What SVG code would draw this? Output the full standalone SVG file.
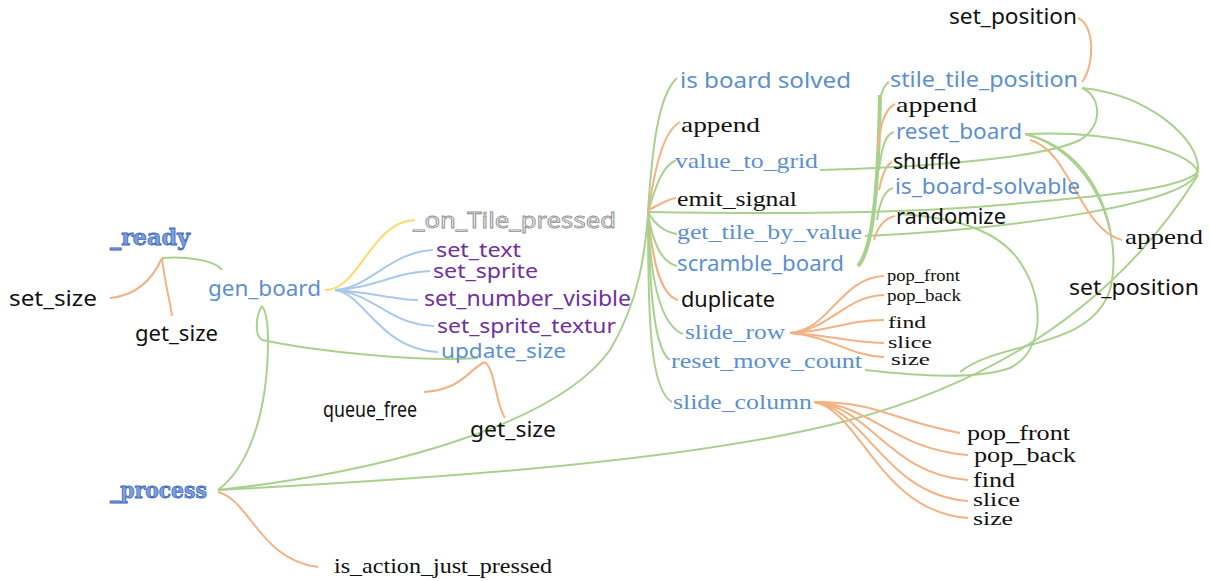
<svg xmlns="http://www.w3.org/2000/svg" width="1210" height="581" viewBox="0 0 1210 581">
<style>
.s{font-family:"Noto Sans","Liberation Sans",sans-serif;font-size:21px;fill:#111}
.r{font-family:"Liberation Serif","Times New Roman",serif;font-size:22px;fill:#111}
.k{font-size:17px}
.m{font-size:20px}
.n{font-size:18px}
.q{font-size:19px}
.b{fill:#5b8fcf}
.p{fill:#7030a0}
.w{font-family:"DejaVu Serif",serif;font-weight:bold;font-size:22px;fill:#7c9fe0;stroke:#3c66bf;stroke-width:0.8}
.t{font-family:"Noto Sans","Liberation Sans",sans-serif;font-size:21px;fill:#f0f0f0;stroke:#8f8f8f;stroke-width:0.8}
.g{fill:none;stroke:#a9d18e;stroke-width:2}
.o{fill:none;stroke:#f4b183;stroke-width:2}
.y{fill:none;stroke:#ffd966;stroke-width:2}
.l{fill:none;stroke:#a9c8ea;stroke-width:2}
</style>
<rect width="1210" height="581" fill="#fff"/>
<g id="connectors">
<path class="g" d="M162,258 C185,256 215,260 222,270"/>
<path class="o" d="M162,258 C150,285 130,296 110,298"/>
<path class="o" d="M162,258 C165,285 170,300 172,316"/>
<path class="y" d="M325,290 C360,290 370,222 415,220"/>
<path class="l" d="M335,290 C370,288 390,252 433,250"/>
<path class="l" d="M335,290 C375,288 395,272 430,271"/>
<path class="l" d="M335,290 C370,292 395,300 418,300"/>
<path class="l" d="M335,290 C375,294 390,325 434,326"/>
<path class="l" d="M335,290 C365,294 380,350 438,352"/>
<path class="g" d="M218,490 C245,470 268,420 268,340 C268,320 265,310 262,306"/>
<path class="g" d="M262,306 C256,315 254,335 262,340 C320,352 420,362 478,358"/>
<path class="o" d="M485,362 C470,368 462,390 424,392"/>
<path class="o" d="M485,362 C495,370 496,405 505,418"/>
<path class="o" d="M218,492 C250,500 260,560 318,567"/>
<path class="g" d="M218,490 C400,470 560,420 610,350 C640,300 645,250 648,215"/>
<path class="g" d="M218,490 C450,478 700,460 850,420 C1000,380 1120,300 1198,175"/>
<path class="g" d="M648,212 C652,150 658,95 677,78"/>
<path class="o" d="M648,212 C655,170 662,132 680,122"/>
<path class="g" d="M648,212 C655,190 660,168 676,160"/>
<path class="o" d="M648,210 C660,205 667,199 676,198"/>
<path class="g" d="M648,212 C655,225 665,232 677,234"/>
<path class="g" d="M648,212 C652,240 660,262 677,266"/>
<path class="o" d="M648,212 C652,260 660,295 678,300"/>
<path class="g" d="M648,212 C650,280 660,325 683,334"/>
<path class="g" d="M648,212 C650,300 655,350 670,360"/>
<path class="g" d="M648,212 C648,320 650,390 672,402"/>
<path class="g" d="M648,212 C760,214 900,214 1000,205 C1100,196 1180,190 1198,172"/>
<path class="g" d="M865,370 C920,376 975,380 1010,368 C1045,350 1045,300 1020,262 C1000,232 960,218 900,214"/>
<path class="g" style="stroke-width:4" d="M858,266 C872,250 878,200 880,95"/>
<path class="g" d="M880,100 C882,90 885,84 889,82"/>
<path class="o" d="M878,150 C880,125 884,110 895,104"/>
<path class="g" d="M879,170 C882,145 886,134 894,132"/>
<path class="o" d="M879,190 C882,175 886,165 892,162"/>
<path class="g" d="M877,220 C880,200 885,190 893,188"/>
<path class="o" d="M874,240 C878,225 886,218 895,216"/>
<path class="g" d="M820,170 C900,168 1040,160 1080,140 C1105,125 1100,95 1082,88"/>
<path class="g" d="M1082,88 C1150,95 1200,140 1198,170 C1195,205 1000,230 865,236"/>
<path class="g" d="M1025,134 C1110,130 1190,150 1198,172"/>
<path class="g" d="M1025,134 C1090,150 1125,230 1110,290 C1090,350 1000,340 960,372"/>
<path class="g" d="M1025,134 C1070,145 1100,180 1110,230"/>
<path class="o" d="M1030,140 C1070,150 1080,230 1122,240"/>
<path class="o" d="M1082,82 C1095,65 1095,25 1078,18"/>
<path class="o" d="M790,333 C830,330 840,278 884,276"/>
<path class="o" d="M790,333 C830,330 845,296 884,295"/>
<path class="o" d="M790,333 C830,332 845,320 884,320"/>
<path class="o" d="M790,333 C830,335 845,342 884,343"/>
<path class="o" d="M790,333 C830,336 850,356 884,357"/>
<path class="o" d="M814,402 C880,402 890,420 960,433"/>
<path class="o" d="M814,402 C870,404 895,450 968,455"/>
<path class="o" d="M814,402 C870,406 890,475 968,480"/>
<path class="o" d="M814,402 C865,408 885,495 968,501"/>
<path class="o" d="M814,402 C860,410 880,512 968,518"/>
</g>
<g id="n_ready"><text class="w" x="110" y="245" textLength="80" lengthAdjust="spacingAndGlyphs">_ready</text></g>
<g id="n_process"><text class="w" x="110" y="498" textLength="97" lengthAdjust="spacingAndGlyphs">_process</text></g>
<g id="n_set_size"><text class="s" x="9" y="306" textLength="88" lengthAdjust="spacingAndGlyphs">set_size</text></g>
<g id="n_get_size1"><text class="s" x="135" y="341" textLength="83" lengthAdjust="spacingAndGlyphs">get_size</text></g>
<g id="n_gen_board"><text class="s b" x="208" y="296" textLength="113" lengthAdjust="spacingAndGlyphs">gen_board</text></g>
<g id="n_on_tile"><text class="t" x="413" y="228" textLength="203" lengthAdjust="spacingAndGlyphs">_on_Tile_pressed</text></g>
<g id="n_set_text"><text class="s p q" x="436" y="257" textLength="85" lengthAdjust="spacingAndGlyphs">set_text</text></g>
<g id="n_set_sprite"><text class="s p q" x="433" y="278" textLength="105" lengthAdjust="spacingAndGlyphs">set_sprite</text></g>
<g id="n_set_number_visible"><text class="s p" x="424" y="306" textLength="207" lengthAdjust="spacingAndGlyphs">set_number_visible</text></g>
<g id="n_set_sprite_textur"><text class="s p q" x="437" y="333" textLength="179" lengthAdjust="spacingAndGlyphs">set_sprite_textur</text></g>
<g id="n_update_size"><text class="s b q" x="441" y="358" textLength="125" lengthAdjust="spacingAndGlyphs">update_size</text></g>
<g id="n_queue_free"><text class="s" x="323" y="417" textLength="94" lengthAdjust="spacingAndGlyphs">queue_free</text></g>
<g id="n_get_size2"><text class="s" x="470" y="437" textLength="86" lengthAdjust="spacingAndGlyphs">get_size</text></g>
<g id="n_is_action"><text class="r" x="334" y="573" textLength="218" lengthAdjust="spacingAndGlyphs">is_action_just_pressed</text></g>
<g id="n_is_board_solved"><text class="s b" x="680" y="88" textLength="171" lengthAdjust="spacingAndGlyphs">is  board  solved</text></g>
<g id="n_append1"><text class="r" x="681" y="132" textLength="79" lengthAdjust="spacingAndGlyphs">append</text></g>
<g id="n_value_to_grid"><text class="r b" x="675" y="168" textLength="143" lengthAdjust="spacingAndGlyphs">value_to_grid</text></g>
<g id="n_emit_signal"><text class="r" x="677" y="206" textLength="120" lengthAdjust="spacingAndGlyphs">emit_signal</text></g>
<g id="n_get_tile_by_value"><text class="r b" x="677" y="239" textLength="185" lengthAdjust="spacingAndGlyphs">get_tile_by_value</text></g>
<g id="n_scramble_board"><text class="s b" x="677" y="271" textLength="167" lengthAdjust="spacingAndGlyphs">scramble_board</text></g>
<g id="n_duplicate"><text class="s" x="681" y="307" textLength="94" lengthAdjust="spacingAndGlyphs">duplicate</text></g>
<g id="n_slide_row"><text class="r b" x="685" y="339" textLength="100" lengthAdjust="spacingAndGlyphs">slide_row</text></g>
<g id="n_reset_move_count"><text class="r b" x="671" y="368" textLength="191" lengthAdjust="spacingAndGlyphs">reset_move_count</text></g>
<g id="n_slide_column"><text class="r b" x="673" y="409" textLength="139" lengthAdjust="spacingAndGlyphs">slide_column</text></g>
<g id="n_set_position1"><text class="s" x="949" y="24" textLength="128" lengthAdjust="spacingAndGlyphs">set_position</text></g>
<g id="n_stile_tile_position"><text class="s b" x="890" y="87" textLength="188" lengthAdjust="spacingAndGlyphs">stile_tile_position</text></g>
<g id="n_append2"><text class="r" x="896" y="112" textLength="81" lengthAdjust="spacingAndGlyphs">append</text></g>
<g id="n_reset_board"><text class="s b" x="896" y="139" textLength="126" lengthAdjust="spacingAndGlyphs">reset_board</text></g>
<g id="n_shuffle"><text class="s" x="893" y="169" textLength="68" lengthAdjust="spacingAndGlyphs">shuffle</text></g>
<g id="n_is_board_solvable"><text class="s b" x="895" y="194" textLength="185" lengthAdjust="spacingAndGlyphs">is_board-solvable</text></g>
<g id="n_randomize"><text class="s" x="896" y="224" textLength="110" lengthAdjust="spacingAndGlyphs">randomize</text></g>
<g id="n_append3"><text class="r" x="1125" y="244" textLength="78" lengthAdjust="spacingAndGlyphs">append</text></g>
<g id="n_set_position2"><text class="s" x="1069" y="295" textLength="130" lengthAdjust="spacingAndGlyphs">set_position</text></g>
<g id="n_pop_front1"><text class="r k" x="887" y="281" textLength="73" lengthAdjust="spacingAndGlyphs">pop_front</text></g>
<g id="n_pop_back1"><text class="r k" x="887" y="301" textLength="74" lengthAdjust="spacingAndGlyphs">pop_back</text></g>
<g id="n_find1"><text class="r k" x="888" y="328" textLength="38" lengthAdjust="spacingAndGlyphs">find</text></g>
<g id="n_slice1"><text class="r k" x="888" y="348" textLength="44" lengthAdjust="spacingAndGlyphs">slice</text></g>
<g id="n_size1"><text class="r k" x="891" y="365" textLength="39" lengthAdjust="spacingAndGlyphs">size</text></g>
<g id="n_pop_front2"><text class="r m" x="967" y="440" textLength="103" lengthAdjust="spacingAndGlyphs">pop_front</text></g>
<g id="n_pop_back2"><text class="r m" x="974" y="462" textLength="102" lengthAdjust="spacingAndGlyphs">pop_back</text></g>
<g id="n_find2"><text class="r m" x="973" y="487" textLength="42" lengthAdjust="spacingAndGlyphs">find</text></g>
<g id="n_slice2"><text class="r n" x="973" y="506" textLength="47" lengthAdjust="spacingAndGlyphs">slice</text></g>
<g id="n_size2"><text class="r n" x="973" y="525" textLength="40" lengthAdjust="spacingAndGlyphs">size</text></g>
</svg>
